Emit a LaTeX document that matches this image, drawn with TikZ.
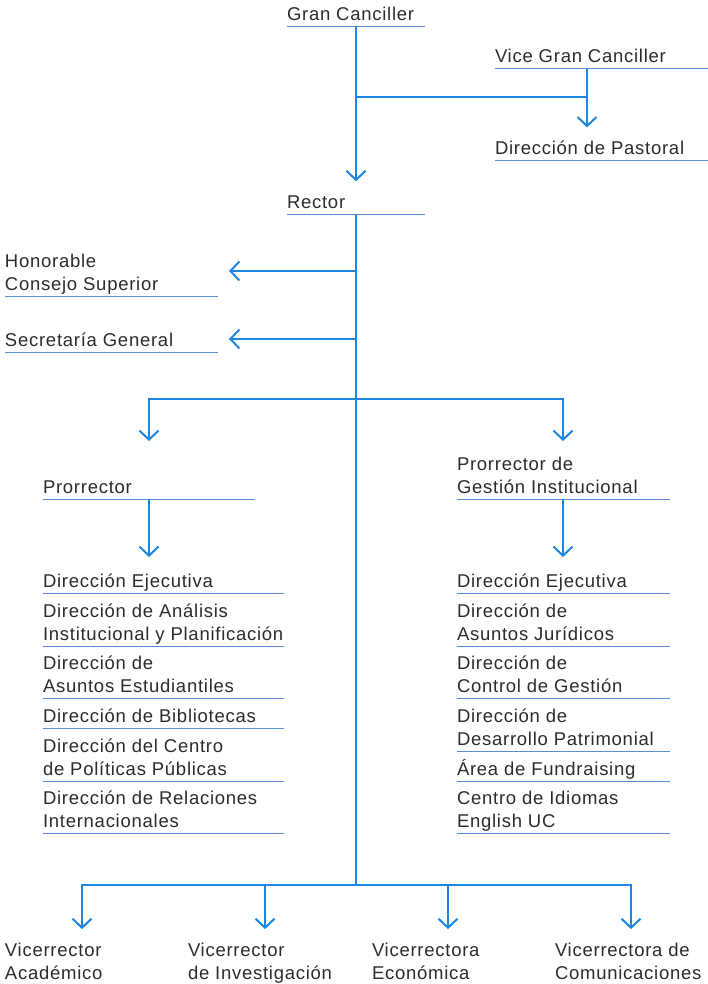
\documentclass[tikz,border=0pt]{standalone}
\usepackage{fontspec}
\setmainfont{Liberation Sans}[LetterSpace=4]
\usetikzlibrary{arrows.meta}
\definecolor{connc}{HTML}{1C86E3}
\definecolor{ulinec}{HTML}{5B8ED6}
\definecolor{txtc}{HTML}{2B2B2B}
\tikzset{
  lab/.style={anchor=south west, inner sep=0pt, outer sep=0pt, align=left,
    text depth=0pt, font=\fontsize{18.5}{22.5}\selectfont, text=txtc},
  uline/.style={draw=ulinec, line width=1pt},
  conn/.style={draw=connc, line width=2pt},
  arr/.style={conn, -{Straight Barb[length=9pt,width=19pt]}}
}
\newcommand\ulab[5]{%
  \node[lab] (#1) at (#2,#3-6) {#5};
  \draw[uline] ([yshift=-6pt]#1.south west) coordinate (#1u) -- ++(#4,0);}
\begin{document}
\begin{tikzpicture}[x=1pt,y=-1pt]
\useasboundingbox (0,0) rectangle (708,984);
\coordinate (tr) at (356,0);
% top
\ulab{gc}{287}{27}{138}{Gran Canciller}
\ulab{vgc}{495}{69}{213}{Vice Gran Canciller}
\ulab{dp}{495}{161}{213}{Dirección de Pastoral}
\ulab{rec}{287}{215}{138}{Rector}
\ulab{hcs}{5}{296}{213}{Honorable\\Consejo Superior}
\ulab{sg}{5}{352}{213}{Secretaría General}
\ulab{pro}{43}{499}{212}{Prorrector}
\ulab{pgi}{457}{499}{213}{Prorrector de\\Gestión Institucional}
% left list
\ulab{l1}{43}{593}{241}{Dirección Ejecutiva}
\ulab{l2}{43}{646}{241}{Dirección de Análisis\\Institucional y Planificación}
\ulab{l3}{43}{698}{241}{Dirección de\\Asuntos Estudiantiles}
\ulab{l4}{43}{728}{241}{Dirección de Bibliotecas}
\ulab{l5}{43}{781}{241}{Dirección del Centro\\de Políticas Públicas}
\ulab{l6}{43}{833}{241}{Dirección de Relaciones\\Internacionales}
% right list
\ulab{r1}{457}{593}{213}{Dirección Ejecutiva}
\ulab{r2}{457}{646}{213}{Dirección de\\Asuntos Jurídicos}
\ulab{r3}{457}{698}{213}{Dirección de\\Control de Gestión}
\ulab{r4}{457}{751}{213}{Dirección de\\Desarrollo Patrimonial}
\ulab{r5}{457}{781}{213}{Área de Fundraising}
\ulab{r6}{457}{833}{213}{Centro de Idiomas\\English UC}
% bottom
\node[lab] (va) at (5,979) {Vicerrector\\Académico};
\node[lab] (vi) at (188,979) {Vicerrector\\de Investigación};
\node[lab] (ve) at (372,979) {Vicerrectora\\Económica};
\node[lab] (vc) at (555,979) {Vicerrectora de\\Comunicaciones};
% connectors
\draw[arr] (gcu -| tr) -- ([yshift=15pt]rec.north -| tr);
\coordinate (j1) at (356,97);
\draw[conn] (j1) -- (587,97);
\draw[arr] (vgcu -| 587,0) -- ([yshift=14pt]dp.north -| 587,0);
\coordinate (jb) at (356,885);
\draw[conn] (recu -| tr) -- (jb);
\draw[arr] (356,271) -- (229,271);
\draw[arr] (356,339) -- (229,339);
\coordinate (j2) at (356,399);
\draw[arr] (j2) -| (149,441);
\draw[arr] (j2) -| (563,441);
\draw[arr] (prou -| 149,0) -- (149,557);
\draw[arr] (pgiu -| 563,0) -- (563,557);
\draw[arr] (jb) -| ([yshift=14pt]va.north -| 82,0);
\draw[arr] (jb) -| ([yshift=14pt]vi.north -| 265,0);
\draw[arr] (jb) -| ([yshift=14pt]ve.north -| 448,0);
\draw[arr] (jb) -| ([yshift=14pt]vc.north -| 631,0);
\end{tikzpicture}
\end{document}
